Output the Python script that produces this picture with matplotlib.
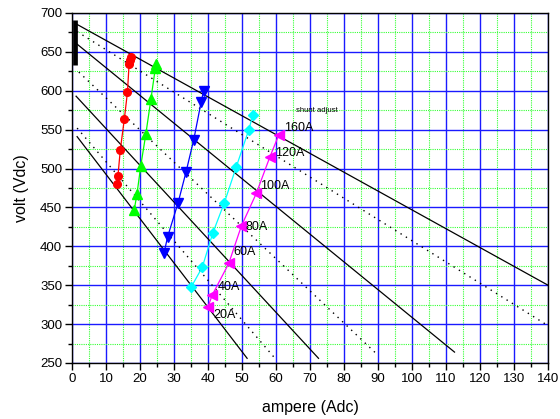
import matplotlib
matplotlib.use("Agg")
import matplotlib.pyplot as plt
from matplotlib.ticker import MultipleLocator

plt.rcParams['font.family'] = ['Liberation Sans', 'DejaVu Sans']

# Measured operating points (current A, voltage V)
red_a = [13.2, 13.5, 14.2, 15.4, 16.3, 16.8, 17.0, 17.3]
red_v = [480, 490, 524, 564, 598, 635, 639, 643]

green_a = [18.3, 19.1, 20.2, 21.7, 23.2, 24.5, 24.8]
green_v = [447, 467, 503, 544, 589, 629, 635]

blue_a = [27.1, 28.1, 31.2, 33.5, 35.8, 38.0, 38.7]
blue_v = [392, 412, 456, 495, 537, 586, 600]

cyan_a = [35.1, 38.3, 41.4, 44.8, 48.3, 52.0, 53.2]
cyan_v = [348, 373, 417, 456, 502, 550, 569]

# Shunt adjustment sweep
shunt_a = [40.0, 41.2, 46.1, 49.8, 54.2, 58.2, 60.8]
shunt_v = [322, 337, 378, 426, 468, 515, 543]
shunt_labels = ['20A', '40A', '60A', '80A', '100A', '120A', '160A']

# Load lines (endpoints: current, voltage)
solid_lines = [
    ([1.2, 140.0], [686, 350]),
    ([1.2, 112.5], [661, 264]),
    ([1.2, 72.5], [593, 256]),
    ([1.5, 51.5], [541, 256]),
]
dotted_lines = [
    ([1.5, 140.0], [676, 298]),
    ([2.0, 89.5], [624, 262]),
    ([1.5, 59.5], [552, 257]),
]

# Reference bar on the voltage axis
bar_a = [0.75, 0.75]
bar_v = [633, 691]

fig = plt.figure(figsize=(5.6, 4.19), dpi=100)
ax = fig.add_axes([0.1286, 0.1337, 0.8500, 0.8353])

ax.set_xlim(0, 140)
ax.set_ylim(250, 700)
ax.xaxis.set_major_locator(MultipleLocator(10))
ax.xaxis.set_minor_locator(MultipleLocator(5))
ax.yaxis.set_major_locator(MultipleLocator(50))
ax.yaxis.set_minor_locator(MultipleLocator(25))

ax.set_axisbelow(True)
ax.grid(which='major', color='#1a1aff', linestyle='-', linewidth=1.0)
ax.grid(which='minor', color='#33ff33', linestyle=(0, (1.0, 1.0)), linewidth=0.8)

for xs, vs in solid_lines:
    ax.plot(xs, vs, color='black', linewidth=0.9, zorder=3)
for xs, vs in dotted_lines:
    ax.plot(xs, vs, color='black', linewidth=1.0, linestyle=(0, (1, 3.5)), zorder=3)

ax.plot(bar_a, bar_v, color='black', linewidth=3.4, solid_capstyle='butt', zorder=4)

ax.plot(red_a, red_v, color='red', marker='o', markersize=5.5, linewidth=0.9, zorder=5)
ax.plot(green_a, green_v, color='#00ff00', marker='^', markersize=6.5, linewidth=0.9, zorder=5)
ax.plot(blue_a, blue_v, color='#0000ff', marker='v', markersize=6.5, linewidth=0.9, zorder=5)
ax.plot(cyan_a, cyan_v, color='#00ffff', marker='D', markersize=5, linewidth=0.9, zorder=5)
ax.plot(shunt_a, shunt_v, color='#ff00ff', marker='<', markersize=6.5, linewidth=0.9, zorder=5)

label_offsets = [(4, -6), (4, 6), (3, 8), (3, -1), (3, 5), (4, 3), (4, 5)]
for a, v, txt, off in zip(shunt_a, shunt_v, shunt_labels, label_offsets):
    ax.annotate(txt, (a, v), xytext=off, textcoords='offset points',
                fontsize=9, ha='left', va='center', zorder=6)

ax.text(66, 570, 'shunt adjust', fontsize=5.5, ha='left', va='bottom', zorder=6)

for side in ['left', 'bottom', 'right', 'top']:
    ax.spines[side].set_color('black')
    ax.spines[side].set_linewidth(1.0)

ax.tick_params(which='major', direction='out', length=5, width=1, labelsize=9.5,
               top=False, right=False, pad=2)
ax.tick_params(which='minor', direction='out', length=3, width=1, top=False, right=False)

ax.set_xlabel('ampere (Adc)', fontsize=11.5, labelpad=11)
ax.set_ylabel('volt (Vdc)', fontsize=11.5, labelpad=8)

fig.savefig('out.png', dpi=100)
